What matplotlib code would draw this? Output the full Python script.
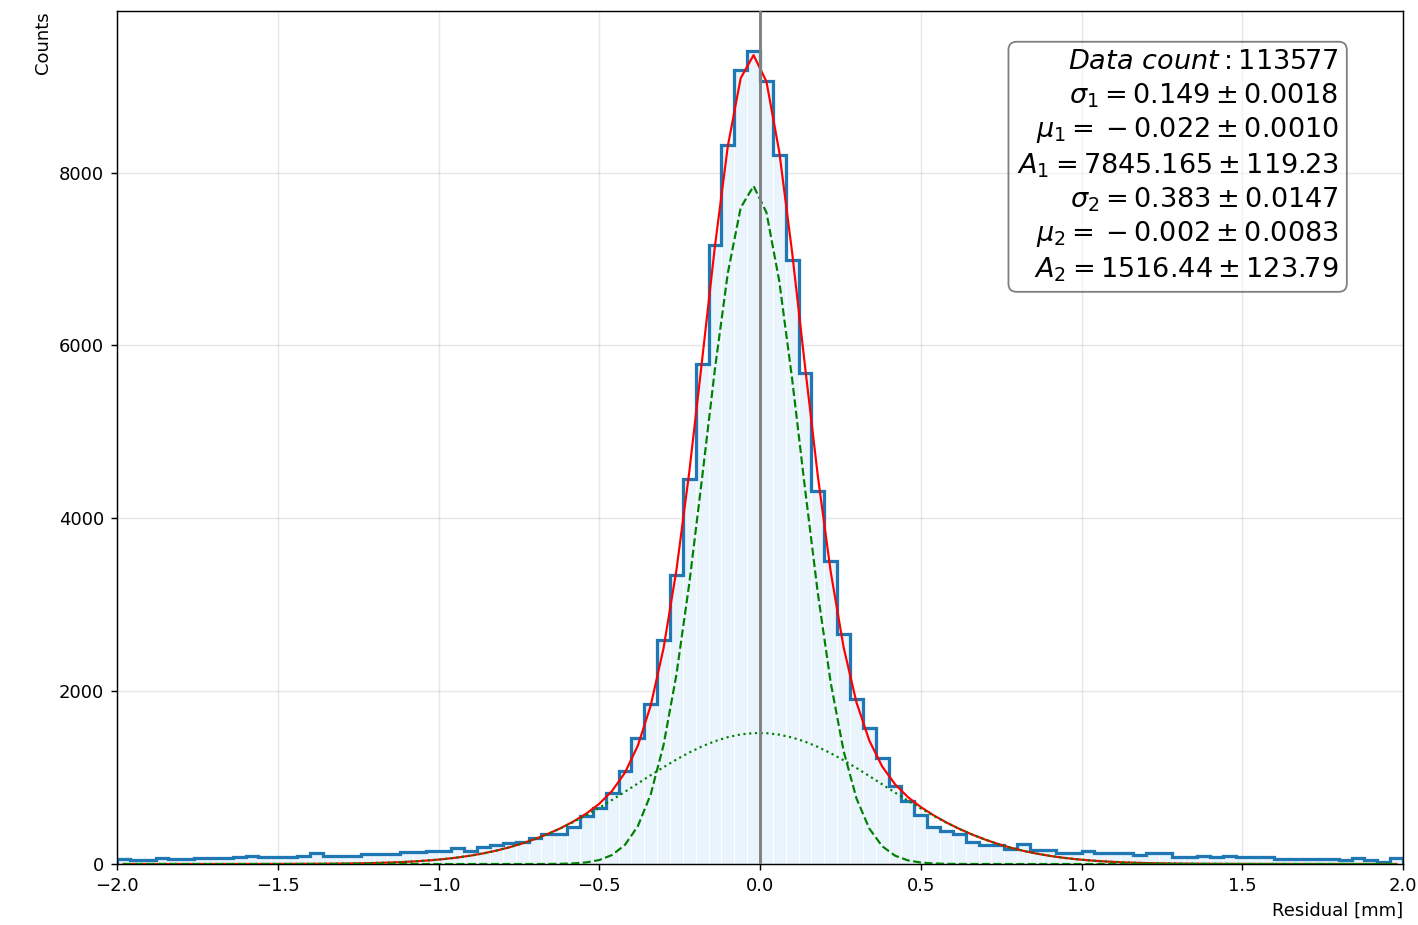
import numpy as np
import matplotlib
matplotlib.use("Agg")
import matplotlib.pyplot as plt

# ---- data ----
bin_lo, bin_hi, n_bins = -2.0, 2.0, 100
counts = [55, 52, 50, 70, 56, 55, 72, 73, 74, 76, 90, 78, 85,
          77, 92, 123, 96, 96, 98, 116, 116, 118, 135, 135, 154, 150,
          181, 150, 200, 220, 239, 258, 297, 347, 350, 431, 560, 644,
          817, 1075, 1460, 1846, 2597, 3341, 4458, 5780, 7167, 8320,
          9187, 9410, 9055, 8208, 6990, 5680, 4316, 3503, 2659, 1907,
          1576, 1229, 905, 726, 566, 431, 385, 347, 258, 220, 220, 173,
          231, 162, 162, 131, 131, 150, 123, 123, 123, 104, 123, 123,
          77, 77, 92, 77, 92, 77, 77, 77, 58, 58, 58, 58, 58, 46, 66,
          46, 27, 66]
sigma = [0.149, 0.383]
sigma_err = [0.0018, 0.0147]
mu = [-0.022, -0.002]
mu_err = [0.0010, 0.0083]
amp = [7845.165, 1516.44]
amp_err = [119.23, 123.79]
data_count = 113577
x_ticks = [-2.0, -1.5, -1.0, -0.5, 0.0, 0.5, 1.0, 1.5, 2.0]
y_ticks = [0, 2000, 4000, 6000, 8000]

# ---- figure ----
dpi = 130
fig = plt.figure(figsize=(1418 / dpi, 925 / dpi), dpi=dpi)
ax = fig.add_axes([117 / 1418, 61 / 925, (1403 - 117) / 1418, (864 - 11) / 925])

edges = np.linspace(bin_lo, bin_hi, n_bins + 1)
centers = 0.5 * (edges[:-1] + edges[1:])
counts = np.asarray(counts, dtype=float)

ax.bar(centers, counts, width=np.diff(edges), color="#eaf4fd",
       edgecolor="white", linewidth=0.6, zorder=1)
ax.stairs(counts, edges, color="#1f77b4", linewidth=1.8, zorder=2)


def gauss(x, a, m, s):
    return a * np.exp(-(x - m) ** 2 / (2 * s ** 2))


g1 = gauss(centers, amp[0], mu[0], sigma[0])
g2 = gauss(centers, amp[1], mu[1], sigma[1])
ax.plot(centers, g1 + g2, color="red", linewidth=1.2, zorder=3)
ax.plot(centers, g1, color="green", linestyle="--", linewidth=1.2, zorder=3)
ax.plot(centers, g2, color="green", linestyle=":", linewidth=1.2, zorder=3)
ax.axvline(0, color="gray", linewidth=1.6, zorder=4)

ax.set_xlim(bin_lo, bin_hi)
ax.set_ylim(0, 9870)
ax.set_xticks(x_ticks)
ax.set_yticks(y_ticks)
ax.grid(True, alpha=0.3)
ax.set_axisbelow(True)
ax.set_xlabel("Residual [mm]", loc="right")
ax.set_ylabel("Counts", loc="top")


def fmt(v, nd):
    s = "%.*f" % (nd, abs(v))
    return ("{}-" + s) if v < 0 else s


lines = [
    r"$Data\ count: %d$" % data_count,
    r"$\sigma_1 = %s \pm %.4f$" % (fmt(sigma[0], 3), sigma_err[0]),
    r"$\mu_1 = %s \pm %.4f$" % (fmt(mu[0], 3), mu_err[0]),
    r"$A_1 = %s \pm %.2f$" % (fmt(amp[0], 3), amp_err[0]),
    r"$\sigma_2 = %s \pm %.4f$" % (fmt(sigma[1], 3), sigma_err[1]),
    r"$\mu_2 = %s \pm %.4f$" % (fmt(mu[1], 3), mu_err[1]),
    r"$A_2 = %s \pm %.2f$" % (fmt(amp[1], 2), amp_err[1]),
]
ax.text(0.95, 0.955, "\n".join(lines), transform=ax.transAxes,
        ha="right", va="top", multialignment="right", fontsize=15,
        linespacing=1.26,
        bbox=dict(boxstyle="round", facecolor="white", alpha=0.5), zorder=5)

fig.savefig("out.png", dpi=dpi)
